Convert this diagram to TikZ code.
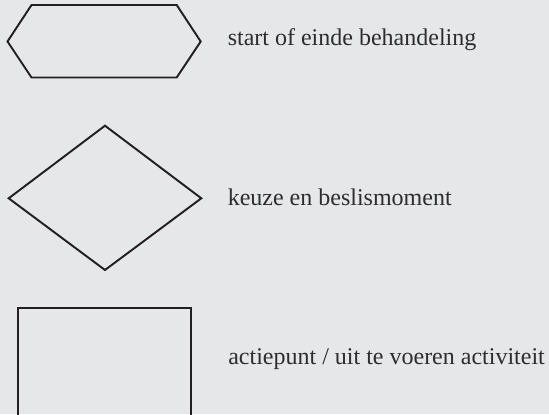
\documentclass[tikz,border=0pt]{standalone}
\usepackage{fontspec}
\setmainfont{Liberation Serif}
\definecolor{bg}{HTML}{E6E7E9}
\definecolor{ink}{HTML}{231F20}
\definecolor{txt}{HTML}{2E2C2D}
\begin{document}
\begin{tikzpicture}[x=0.75pt,y=-0.75pt,
  shapeline/.style={draw=ink,line width=1.45pt,line join=miter},
  legendtext/.style={anchor=base west,inner sep=0pt,text=txt,font=\fontsize{18}{21}\selectfont}]
\useasboundingbox (0,0) rectangle (549,414);
\clip (0,0) rectangle (549,414);
\fill[bg] (0,0) rectangle (549,414);
% hexagon
\draw[shapeline] (7.5,41.5) -- (31.5,5) -- (176.7,5) -- (200.7,41.5) -- (176.7,77.5) -- (31.5,77.5) -- cycle;
\node[legendtext] (t1) at (227.5,45.5) {start of einde behandeling};
% diamond
\draw[shapeline] (105,125.7) -- (201.3,198.3) -- (105,270) -- (8.7,198.3) -- cycle;
\node[legendtext] (t2) at (227.5,205) {keuze en beslismoment};
% rectangle
\draw[shapeline] (18.3,420) -- (18.3,307.7) -- (191,307.7) -- (191,420);
\node[legendtext] (t3) at (228,364.3) {actiepunt / uit te voeren activiteit};
\end{tikzpicture}
\end{document}
